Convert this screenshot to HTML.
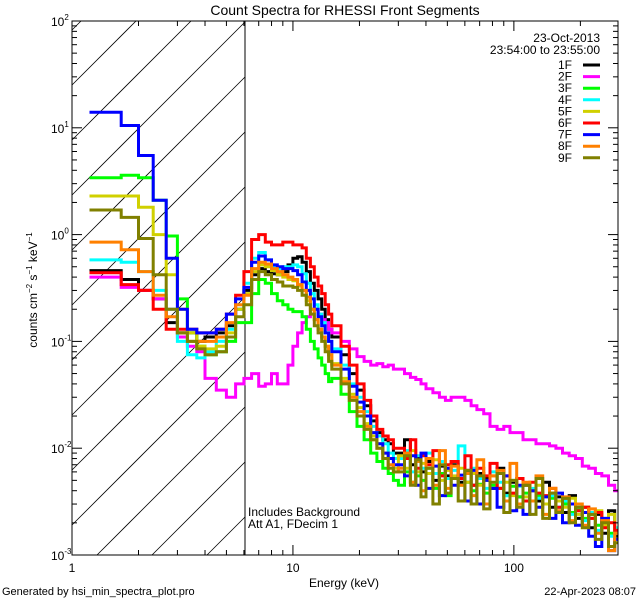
<!DOCTYPE html>
<html><head><meta charset="utf-8"><style>
html,body{margin:0;padding:0;background:#fff;width:640px;height:600px;overflow:hidden;}
svg{display:block;font-family:"Liberation Sans",sans-serif;overflow:hidden;}
</style></head><body>
<svg id="chart" width="640" height="600" viewBox="0 0 640 600">
<rect width="640" height="600" fill="#fff"/>
<defs><clipPath id="plotclip"><rect x="72" y="21" width="546" height="534"/></clipPath></defs>
<g id="hatch"></g>
<line x1="245" y1="21" x2="245" y2="555" stroke="#000" stroke-width="1"/>
<g id="series" clip-path="url(#plotclip)"></g>
<rect x="72" y="21" width="546" height="534" fill="none" stroke="#000" stroke-width="1"/>
<g id="axes"></g>
<text x="345" y="15" text-anchor="middle" font-size="14">Count Spectra for RHESSI Front Segments</text>
<text x="344" y="587" text-anchor="middle" font-size="12">Energy (keV)</text>
<text transform="translate(37,290) rotate(-90)" text-anchor="middle" font-size="12">counts cm<tspan font-size="8" dy="-5">−2</tspan><tspan dy="5"> s</tspan><tspan font-size="8" dy="-5">−1</tspan><tspan dy="5"> keV</tspan><tspan font-size="8" dy="-5">−1</tspan></text>
<text x="2" y="595" font-size="11">Generated by hsi_min_spectra_plot.pro</text>
<text x="636" y="595" text-anchor="end" font-size="11">22-Apr-2023 08:07</text>
<text x="248" y="516" font-size="12">Includes Background</text>
<text x="248" y="528" font-size="12">Att A1, FDecim 1</text>
<text x="600" y="42" text-anchor="end" font-size="12">23-Oct-2013</text>
<text x="600" y="54" text-anchor="end" font-size="12">23:54:00 to 23:55:00</text>
<g id="legend"></g>
</svg>
<script>
const edges=[1.2,1.67,2,2.33,2.67,3,3.33,3.67,4,4.5,5,5.5,6,
6.5,7,7.5,8,8.5,9,9.5,10,10.5,11,11.5,12,12.5,13,13.5,14,14.5,15,
16.5,18,19.5,21,22.5,24,25.5,27,28.5,30,
32,34,36,38,40,43,46,49,52,56,60,64,68,73,78,84,90,96,103,110,118,126,135,145,155,166,178,190,204,218,234,250,268,286,296];
const seriesNames=["1F","2F","3F","4F","5F","6F","7F","8F","9F"];
const seriesColors=["#000000","#ff00ff","#00ff00","#00ffff","#d0d000","#ff0000","#0000ff","#ff8000","#808000"];
const s1F=[0.46,0.38,0.3,0.25,0.15,0.12,0.12,0.1,0.11,0.12,0.14,0.2,
0.3,0.42,0.48,0.45,0.43,0.42,0.45,0.52,0.6,0.62,0.55,0.45,0.35,0.3,0.25,0.2,0.16,0.13,
0.11,0.075,0.05,0.035,0.025,0.018,0.014,0.012,0.011,0.009,
0.009,0.012,0.007,0.008,0.006,0.0075,0.005,0.0068,0.0055,0.007,0.0048,0.0062,0.0045,0.0058,0.0052,0.0042,0.0065,0.0038,0.0048,0.0035,0.0045,0.004,0.0032,0.0048,0.0028,0.0035,0.0025,0.0036,0.0022,0.0028,0.0018,0.0024,0.0016,0.0026,0.0015];
const s2F=[0.4,0.32,0.3,0.25,0.2,0.11,0.09,0.08,0.045,0.035,0.03,0.04,
0.045,0.05,0.038,0.04,0.05,0.04,0.04,0.06,0.09,0.12,0.15,0.17,0.2,0.2,0.18,0.16,0.15,0.13,
0.12,0.1,0.085,0.072,0.065,0.06,0.062,0.058,0.06,0.055,
0.055,0.05,0.046,0.044,0.04,0.036,0.033,0.03,0.028,0.03,0.03,0.028,0.025,0.023,0.021,0.016,0.015,0.016,0.014,0.014,0.012,0.012,0.011,0.011,0.0105,0.01,0.009,0.0085,0.008,0.0068,0.0065,0.0058,0.0055,0.0045,0.004];
const s3F=[3.4,3.6,3.4,2.1,0.97,0.25,0.12,0.09,0.075,0.08,0.1,0.15,
0.15,0.28,0.38,0.35,0.28,0.24,0.22,0.2,0.19,0.19,0.17,0.13,0.1,0.085,0.07,0.06,0.05,0.042,
0.045,0.032,0.022,0.016,0.012,0.009,0.0075,0.0065,0.0058,0.005,
0.0045,0.006,0.0048,0.0055,0.005,0.0065,0.0042,0.0058,0.0036,0.0052,0.0045,0.0048,0.004,0.0046,0.0038,0.0045,0.0042,0.0036,0.0044,0.0035,0.0038,0.0032,0.0036,0.003,0.0034,0.0028,0.003,0.0025,0.0027,0.0022,0.0024,0.0019,0.002,0.0016,0.0017];
const s4F=[0.58,0.55,0.45,0.3,0.2,0.1,0.075,0.07,0.08,0.1,0.13,0.2,
0.35,0.6,0.68,0.58,0.5,0.48,0.5,0.5,0.52,0.5,0.43,0.35,0.28,0.22,0.18,0.15,0.12,0.1,
0.085,0.06,0.04,0.03,0.022,0.016,0.013,0.011,0.009,0.008,
0.008,0.0095,0.006,0.0085,0.0065,0.009,0.0058,0.0075,0.0052,0.0062,0.0105,0.0048,0.0065,0.0052,0.0042,0.006,0.0048,0.0036,0.005,0.0044,0.0032,0.0042,0.0034,0.003,0.0036,0.0028,0.0032,0.0024,0.0028,0.0021,0.0025,0.0017,0.0022,0.0015,0.0018];
const s5F=[2.3,2.3,1.8,1.0,0.42,0.2,0.12,0.09,0.085,0.09,0.12,0.2,
0.28,0.45,0.52,0.5,0.46,0.42,0.4,0.38,0.37,0.33,0.3,0.24,0.2,0.16,0.13,0.11,0.09,0.075,
0.062,0.045,0.032,0.024,0.017,0.013,0.011,0.009,0.008,0.0065,
0.0085,0.0065,0.0095,0.006,0.0072,0.0058,0.0078,0.005,0.0062,0.0055,0.0065,0.0048,0.0058,0.0045,0.005,0.0055,0.0042,0.0048,0.0036,0.0052,0.0035,0.004,0.0045,0.003,0.0038,0.0032,0.0028,0.0034,0.0024,0.0028,0.0022,0.0026,0.0019,0.0024,0.0017];
const s6F=[0.44,0.34,0.3,0.2,0.13,0.13,0.13,0.12,0.12,0.13,0.18,0.27,
0.45,0.9,1.0,0.85,0.8,0.8,0.85,0.85,0.8,0.8,0.75,0.6,0.5,0.4,0.33,0.28,0.22,0.18,
0.14,0.09,0.06,0.04,0.028,0.02,0.015,0.013,0.012,0.01,
0.01,0.008,0.012,0.0065,0.0085,0.007,0.0095,0.0055,0.007,0.0075,0.0052,0.0085,0.0045,0.0065,0.0055,0.0072,0.0042,0.0055,0.0038,0.0052,0.0032,0.0048,0.0038,0.0036,0.0042,0.0028,0.0034,0.003,0.0026,0.0028,0.0022,0.0025,0.0018,0.002,0.0017];
const s7F=[14,10.5,5.5,2.1,0.6,0.2,0.13,0.12,0.12,0.13,0.18,0.25,
0.32,0.55,0.63,0.58,0.52,0.5,0.48,0.48,0.46,0.42,0.36,0.3,0.25,0.2,0.17,0.14,0.12,0.1,
0.08,0.055,0.038,0.027,0.02,0.014,0.011,0.009,0.008,0.007,
0.007,0.0055,0.0085,0.0045,0.009,0.0042,0.0068,0.0036,0.0065,0.0045,0.0056,0.0032,0.0062,0.003,0.005,0.0042,0.0028,0.0055,0.0026,0.0045,0.0024,0.004,0.0028,0.0035,0.0022,0.0038,0.002,0.003,0.0019,0.0025,0.0015,0.0012,0.0022,0.0011,0.0014];
const s8F=[0.85,0.72,0.45,0.27,0.17,0.12,0.1,0.1,0.1,0.11,0.15,0.22,
0.27,0.48,0.55,0.53,0.48,0.45,0.42,0.4,0.38,0.34,0.3,0.26,0.2,0.16,0.13,0.11,0.09,0.075,
0.06,0.042,0.03,0.022,0.016,0.012,0.01,0.008,0.007,0.006,
0.0065,0.009,0.0048,0.0075,0.004,0.008,0.0045,0.0095,0.0042,0.0068,0.0045,0.0058,0.0036,0.0078,0.003,0.0055,0.0062,0.0032,0.0072,0.003,0.0048,0.0032,0.0055,0.0024,0.0042,0.0026,0.0035,0.0021,0.003,0.0019,0.0027,0.0016,0.0021,0.0011,0.0016];
const s9F=[1.7,1.45,0.92,0.42,0.2,0.12,0.1,0.085,0.075,0.08,0.11,0.17,
0.22,0.38,0.45,0.42,0.38,0.36,0.33,0.33,0.32,0.3,0.27,0.22,0.18,0.14,0.12,0.1,0.08,0.065,
0.055,0.04,0.028,0.02,0.015,0.012,0.01,0.008,0.0065,0.006,
0.006,0.0085,0.0045,0.0078,0.0035,0.0065,0.003,0.007,0.0038,0.0052,0.0032,0.0062,0.003,0.0055,0.0027,0.0048,0.0058,0.0025,0.005,0.0028,0.0045,0.0024,0.0052,0.0022,0.0038,0.0025,0.0034,0.002,0.0028,0.0018,0.0024,0.0014,0.002,0.0012,0.0013];
const seriesValues=[s1F,s2F,s3F,s4F,s5F,s6F,s7F,s8F,s9F];
const yTickExps=[2,1,0,-1,-2,-3];
const xTickLabels=["1","10","100"];
const xTickVals=[1,10,100];

const NS="http://www.w3.org/2000/svg";
const L=72,R=618,T=21,B=555;
const xMin=Math.log10(1),xMax=Math.log10(296);
const yMin=-3,yMax=2;
function xs(e){return L+(Math.log10(e)-xMin)/(xMax-xMin)*(R-L);}
function ys(v){return T+(yMax-Math.log10(v))/(yMax-yMin)*(B-T);}
function mk(tag,parent){const el=document.createElementNS(NS,tag);parent.appendChild(el);return el;}

// hatch lines computed inside region x 72..245, y 21..555, lines x+y=c
const hatch=document.getElementById('hatch');
const HX0=72,HX1=245,HY0=21,HY1=555;
for(let k=-1;k<14;k++){
  const c=72+85+k*55;
  const xa=Math.max(HX0,c-HY1), xb=Math.min(HX1,c-HY0);
  if(xb<=xa) continue;
  const ln=mk('line',hatch);
  
  
  ln.setAttribute('x1',xa);ln.setAttribute('y1',c-xa);
  ln.setAttribute('x2',xb);ln.setAttribute('y2',c-xb);
  ln.setAttribute('stroke','#000');ln.setAttribute('stroke-width','0.8');
}

const sg=document.getElementById('series');
seriesValues.forEach((vals,si)=>{
  let d='';
  for(let i=0;i<vals.length;i++){
    const x0=xs(edges[i]).toFixed(1),x1=xs(edges[i+1]).toFixed(1),y=Math.min(B+2,ys(vals[i])).toFixed(1);
    d+=(i===0?'M':'L')+x0+','+y+'L'+x1+','+y;
  }
  const p=mk('path',sg);
  
  
  p.setAttribute('d',d);p.setAttribute('fill','none');
  p.setAttribute('stroke',seriesColors[si]);p.setAttribute('stroke-width','3');
});

const ax=document.getElementById('axes');
function tick(x1,y1,x2,y2,name){const t=mk('line',ax);
  
  
  t.setAttribute('x1',x1);t.setAttribute('y1',y1);t.setAttribute('x2',x2);t.setAttribute('y2',y2);t.setAttribute('stroke','#000');t.setAttribute('stroke-width','1');}
for(let dec=1;dec<=100;dec*=10){
  for(let m=1;m<10;m++){
    const e=dec*m; if(e>296) break;
    const x=xs(e); const len=m===1?10:5;
    tick(x,B,x,B-len,'x-tick');
    tick(x,T,x,T+len,'x-tick-top');
  }
}
for(let ex=-3;ex<2;ex++){
  for(let m=1;m<10;m++){
    const v=Math.pow(10,ex)*m; const y=ys(v); const len=m===1?10:5;
    tick(L,y,L+len,y,'y-tick');
    tick(R,y,R-len,y,'y-tick-right');
  }
}
tick(L,T,L+10,T,'y-tick');tick(R,T,R-10,T,'y-tick-right');
xTickVals.forEach((v,i)=>{const t=mk('text',ax);
  
  
  t.setAttribute('x',xs(v));t.setAttribute('y',572);t.setAttribute('text-anchor','middle');t.setAttribute('font-size','12');t.textContent=xTickLabels[i];});
yTickExps.forEach(ex=>{const t=mk('text',ax);
  
  
  const y=ys(Math.pow(10,ex));
  t.setAttribute('x',51);t.setAttribute('y',y+5);t.setAttribute('font-size','12');
  t.textContent='10';
  const s=mk('tspan',t);s.setAttribute('font-size','8');s.setAttribute('dy','-6');s.textContent=String(ex);});

const lg=document.getElementById('legend');
seriesNames.forEach((n,i)=>{
  const y=65+i*11.6;
  const t=mk('text',lg);
  
  
  t.setAttribute('x',572);t.setAttribute('y',y+4);t.setAttribute('text-anchor','end');t.setAttribute('font-size','12');t.textContent=n;
  const l=mk('line',lg);
  
  
  l.setAttribute('x1',583);l.setAttribute('x2',600);l.setAttribute('y1',y);l.setAttribute('y2',y);l.setAttribute('stroke',seriesColors[i]);l.setAttribute('stroke-width','3');
});
</script>
</body></html>
